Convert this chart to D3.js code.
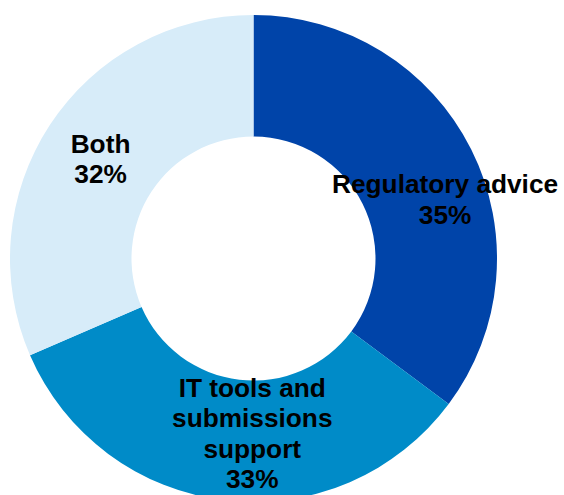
<!DOCTYPE html>
<html>
<head>
<meta charset="utf-8">
<script src="https://cdn.jsdelivr.net/npm/d3@7"></script>
<style>
  html, body { margin: 0; padding: 0; background: #ffffff; }
  svg { display: block; }
  text { font-family: "Liberation Sans", Arial, sans-serif; font-weight: bold; fill: #000; }
</style>
</head>
<body>
<svg id="chart" width="564" height="495"></svg>
<script>
// Data
const categories = ["Regulatory advice", "IT tools and submissions support", "Both"];
const values = [35.2, 33.3, 31.5];
const pctLabels = ["35%", "33%", "32%"];
const labelLines = [["Regulatory advice"], ["IT tools and", "submissions", "support"], ["Both"]];
const colors = ["#0044a9", "#008bc8", "#d7ecf9"];

// Layout
const W = 564, H = 495;
const cx = 253.5, cy = 258.5;
const outerR = 243.5, innerR = 122;
const labelR = 183;
const nudges = [[28, 23.5], [20, -6.5], [0, 1]];
const fontSize = 25, lineH = 30.5, stretchX = 1.05;

const svg = d3.select("#chart");
const g = svg.append("g").attr("transform", `translate(${cx},${cy})`);

const pie = d3.pie().sort(null).value(d => d.value);
const data = categories.map((c, i) => ({ name: c, value: values[i], i }));
const arcs = pie(data);

const arc = d3.arc().innerRadius(innerR).outerRadius(outerR);
const labelArc = d3.arc().innerRadius(labelR).outerRadius(labelR);

g.selectAll("path.slice")
  .data(arcs)
  .enter().append("path")
  .attr("class", "slice")
  .attr("d", arc)
  .attr("fill", d => colors[d.data.i]);

arcs.forEach(d => {
  const i = d.data.i;
  const [x0, y0] = labelArc.centroid(d);
  const x = x0 + nudges[i][0];
  const y = y0 + nudges[i][1];
  const lines = labelLines[i].concat([pctLabels[i]]);
  const n = lines.length;
  const t = g.append("g")
    .attr("transform", `translate(${x},${y}) scale(${stretchX},1)`)
    .append("text")
    .attr("text-anchor", "middle")
    .style("font-size", fontSize + "px");
  lines.forEach((ln, k) => {
    t.append("tspan")
      .attr("x", 0)
      .attr("y", (k - (n - 1) / 2) * lineH + 0.35 * fontSize)
      .text(ln);
  });
});
</script>
</body>
</html>
